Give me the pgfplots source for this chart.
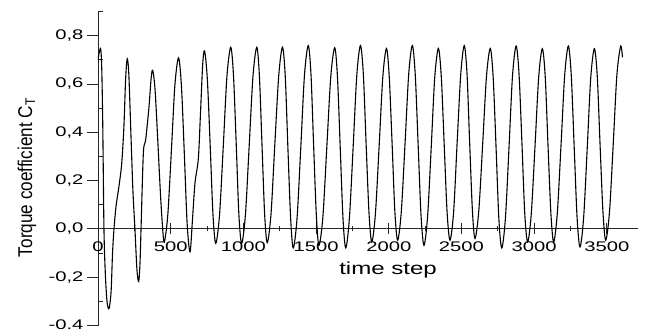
\documentclass[border=0pt]{standalone}
\usepackage{pgfplots}
\pgfplotsset{compat=1.18}
\usepackage{fontspec}
\setmainfont{Liberation Sans}
\begin{document}
\begin{tikzpicture}
\begin{axis}[
  scale only axis, width=540bp, height=314bp,
  xmin=0, xmax=3714, ymin=-0.4, ymax=0.9,
  axis x line=middle, axis y line=left,
  hide obscured x ticks=false, hide obscured y ticks=false,
  axis line style={-, line width=0.9bp, color=black!85},
  tick style={black!85, line width=0.9bp},
  xtick={0,500,1000,1500,2000,2500,3000,3500},
  minor x tick num=1,
  ytick={-0.4,-0.2,0,0.2,0.4,0.6,0.8},
  extra y ticks={-0.3,-0.1,0.1,0.3,0.5,0.7,0.9},
  extra y tick labels={},
  extra y tick style={ytick align=inside, major tick length=5bp},
  xtick align=center, ytick align=outside,
  major tick length=11bp, minor tick length=5bp,
  /pgf/number format/assume math mode=true,
  /pgf/number format/1000 sep={},
  ticklabel style={font=\fontsize{14}{16}\selectfont},
  xticklabel style={yshift=-4bp},
  xticklabel={\scalebox{1.45}[1]{\pgfmathprintnumber[1000 sep={}]{\tick}}},
  yticklabel={\scalebox{1.45}[1]{\pgfmathprintnumber[fixed,fixed zerofill,precision=1,use comma]{\tick}}},
  ylabel={\scalebox{0.86}[1]{Torque coefficient C\textsubscript{T}}},
  ylabel style={font=\fontsize{20}{22}\selectfont, at={(rel axis cs:-0.1315,0.471)}, anchor=center},
  xlabel={\scalebox{1.38}[1]{time step}},
  xlabel style={font=\fontsize{17.5}{20}\selectfont, at={(axis cs:1995,-0.17)}, anchor=center},
]
\coordinate (O) at (rel axis cs:0,0);
\addplot[black, line width=1.1bp, smooth, mark=none] coordinates {
(0,0.700) (10,0.735) (19,0.743) (26,0.66) (33,0.42) (41,0.00) (50,-0.18) (62,-0.30) (76,-0.33) (90,-0.26) (100,-0.10)
(110,0.00) (124,0.093) (145,0.18) (163,0.27) (178,0.42) (190,0.62) (201,0.704) (212,0.64) (226,0.40) (240,0.16)
(254,0.00) (268,-0.17) (280,-0.218) (289,-0.14) (296,0.00) (312,0.314) (328,0.37) (350,0.50) (365,0.62) (376,0.657)
(392,0.58) (410,0.38) (430,0.14) (445,0.00) (456,-0.055) (480,0.057) (505,0.327) (529,0.596) (554,0.708)
(574,0.59) (594,0.307) (613,0.023) (633,-0.095) (650,0.04) (667,0.19) (690,0.29) (705,0.48) (720,0.68) (733,0.737)
(752,0.62) (772,0.34) (791,0.057) (810,-0.06) (836,0.059) (862,0.346) (887,0.633) (913,0.752)
(932,0.633) (951,0.346) (969,0.059) (988,-0.06) (1014,0.059) (1040,0.346) (1066,0.633) (1092,0.752)
(1110,0.634) (1128,0.348) (1146,0.062) (1164,-0.057) (1190,0.062) (1216,0.348) (1243,0.634) (1269,0.752)
(1288,0.63) (1306,0.337) (1325,0.043) (1343,-0.079) (1369,0.044) (1395,0.34) (1420,0.636) (1446,0.759)
(1465,0.638) (1483,0.346) (1502,0.053) (1520,-0.068) (1547,0.052) (1574,0.341) (1601,0.63) (1628,0.750)
(1647,0.629) (1666,0.336) (1685,0.043) (1704,-0.079) (1729,0.044) (1755,0.34) (1780,0.636) (1805,0.759)
(1825,0.64) (1844,0.353) (1864,0.065) (1883,-0.054) (1908,0.063) (1934,0.347) (1959,0.63) (1984,0.747)
(2003,0.631) (2023,0.35) (2042,0.069) (2061,-0.047) (2086,0.071) (2112,0.356) (2137,0.641) (2162,0.759)
(2182,0.638) (2202,0.346) (2222,0.053) (2242,-0.068) (2267,0.052) (2292,0.34) (2316,0.627) (2341,0.747)
(2361,0.631) (2381,0.35) (2401,0.069) (2421,-0.047) (2446,0.071) (2470,0.356) (2495,0.641) (2519,0.759)
(2538,0.642) (2556,0.36) (2575,0.077) (2593,-0.04) (2619,0.075) (2646,0.354) (2672,0.632) (2698,0.747)
(2718,0.626) (2738,0.334) (2757,0.042) (2777,-0.079) (2802,0.043) (2827,0.339) (2851,0.635) (2876,0.757)
(2896,0.638) (2916,0.352) (2935,0.065) (2955,-0.054) (2980,0.063) (3006,0.346) (3031,0.629) (3056,0.746)
(3076,0.629) (3095,0.346) (3115,0.063) (3134,-0.054) (3159,0.065) (3185,0.352) (3210,0.638) (3235,0.757)
(3255,0.635) (3275,0.341) (3295,0.047) (3315,-0.075) (3340,0.046) (3365,0.336) (3389,0.626) (3414,0.746)
(3434,0.63) (3453,0.35) (3473,0.07) (3492,-0.047) (3518,0.071) (3544,0.355) (3569,0.639) (3595,0.757)
(3607,0.71)
};
\end{axis}
\pgfresetboundingbox
\path (O) ++(-98bp,-3.5bp) rectangle ++(645bp,329bp);
\end{tikzpicture}
\end{document}
